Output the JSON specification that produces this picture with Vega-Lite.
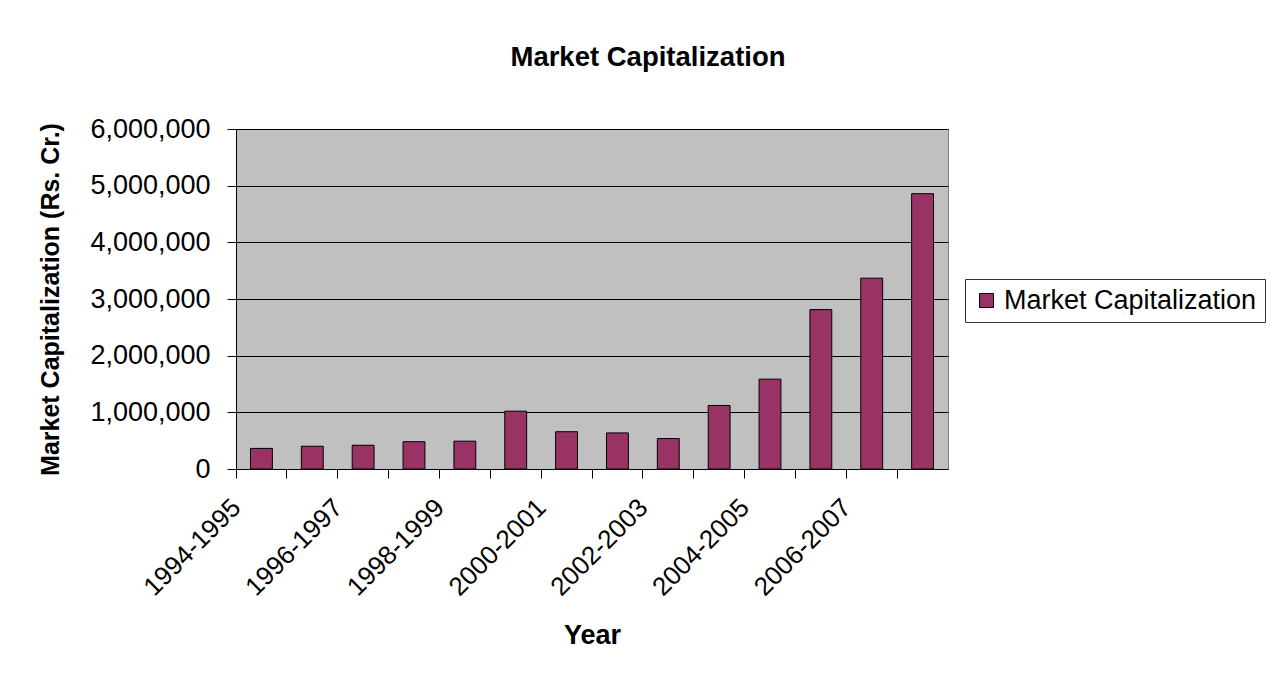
{
  "$schema": "https://vega.github.io/schema/vega-lite/v6.json",
  "width": 712,
  "height": 340,
  "autosize": "none",
  "padding": {"left": 236, "top": 129, "right": 322, "bottom": 204},
  "background": "white",
  "title": {
    "text": "Market Capitalization",
    "fontSize": 27.5,
    "fontWeight": "bold",
    "font": "Liberation Sans",
    "color": "black",
    "anchor": "middle",
    "frame": "group",
    "dx": 56,
    "offset": 44
  },
  "data": {
    "values": [
      {"year": "1994-1995", "market_cap": 363350},
      {"year": "1995-1996", "market_cap": 401459},
      {"year": "1996-1997", "market_cap": 419367},
      {"year": "1997-1998", "market_cap": 481503},
      {"year": "1998-1999", "market_cap": 491175},
      {"year": "1999-2000", "market_cap": 1020426},
      {"year": "2000-2001", "market_cap": 657847},
      {"year": "2001-2002", "market_cap": 636861},
      {"year": "2002-2003", "market_cap": 537133},
      {"year": "2003-2004", "market_cap": 1120976},
      {"year": "2004-2005", "market_cap": 1585585},
      {"year": "2005-2006", "market_cap": 2813201},
      {"year": "2006-2007", "market_cap": 3367350},
      {"year": "2007-2008", "market_cap": 4858122}
    ]
  },
  "mark": {"type": "bar", "width": {"band": 0.43}, "stroke": "black", "strokeWidth": 1},
  "encoding": {
    "x": {
      "field": "year",
      "type": "nominal",
      "sort": null,
      "scale": {"paddingInner": 0, "paddingOuter": 0},
      "axis": {
        "title": "Year",
        "titleFontSize": 27,
        "titleFontWeight": "bold",
        "titleColor": "black",
        "titlePadding": 22,
        "bandPosition": 0,
        "labelAngle": -45,
        "labelAlign": "right",
        "labelBaseline": "top",
        "labelFontSize": 26,
        "labelColor": "black",
        "labelPadding": 16,
        "labelOffset": -34,
        "labelOverlap": false,
        "labelBound": false,
        "labelExpr": "toNumber(substring(datum.value, 0, 4)) % 2 == 0 ? datum.value : ''",
        "tickSize": 9,
        "tickColor": "black",
        "domainColor": "black",
        "grid": false
      }
    },
    "y": {
      "field": "market_cap",
      "type": "quantitative",
      "scale": {"domain": [0, 6000000], "nice": false},
      "axis": {
        "title": "Market Capitalization (Rs. Cr.)",
        "titleFontSize": 25,
        "titleFontWeight": "bold",
        "titleColor": "black",
        "titlePadding": 26,
        "values": [0, 1000000, 2000000, 3000000, 4000000, 5000000, 6000000],
        "format": ",.0f",
        "labelFontSize": 27,
        "labelColor": "black",
        "labelPadding": 17,
        "tickSize": 9,
        "tickColor": "black",
        "domainColor": "black",
        "grid": true,
        "gridColor": "black",
        "gridOpacity": 1
      }
    },
    "color": {
      "datum": "Market Capitalization",
      "scale": {"range": ["#993366"]},
      "legend": {
        "title": null,
        "orient": "none",
        "legendX": 729,
        "legendY": 150,
        "padding": 8,
        "strokeColor": "#333333",
        "fillColor": "white",
        "symbolType": "square",
        "symbolSize": 196,
        "symbolStrokeColor": "black",
        "symbolStrokeWidth": 1,
        "symbolOpacity": 1,
        "labelFontSize": 27,
        "labelColor": "black",
        "labelLimit": 400
      }
    }
  },
  "config": {
    "font": "Liberation Sans",
    "view": {"fill": "#C0C0C0", "stroke": "#808080", "strokeWidth": 1}
  }
}
